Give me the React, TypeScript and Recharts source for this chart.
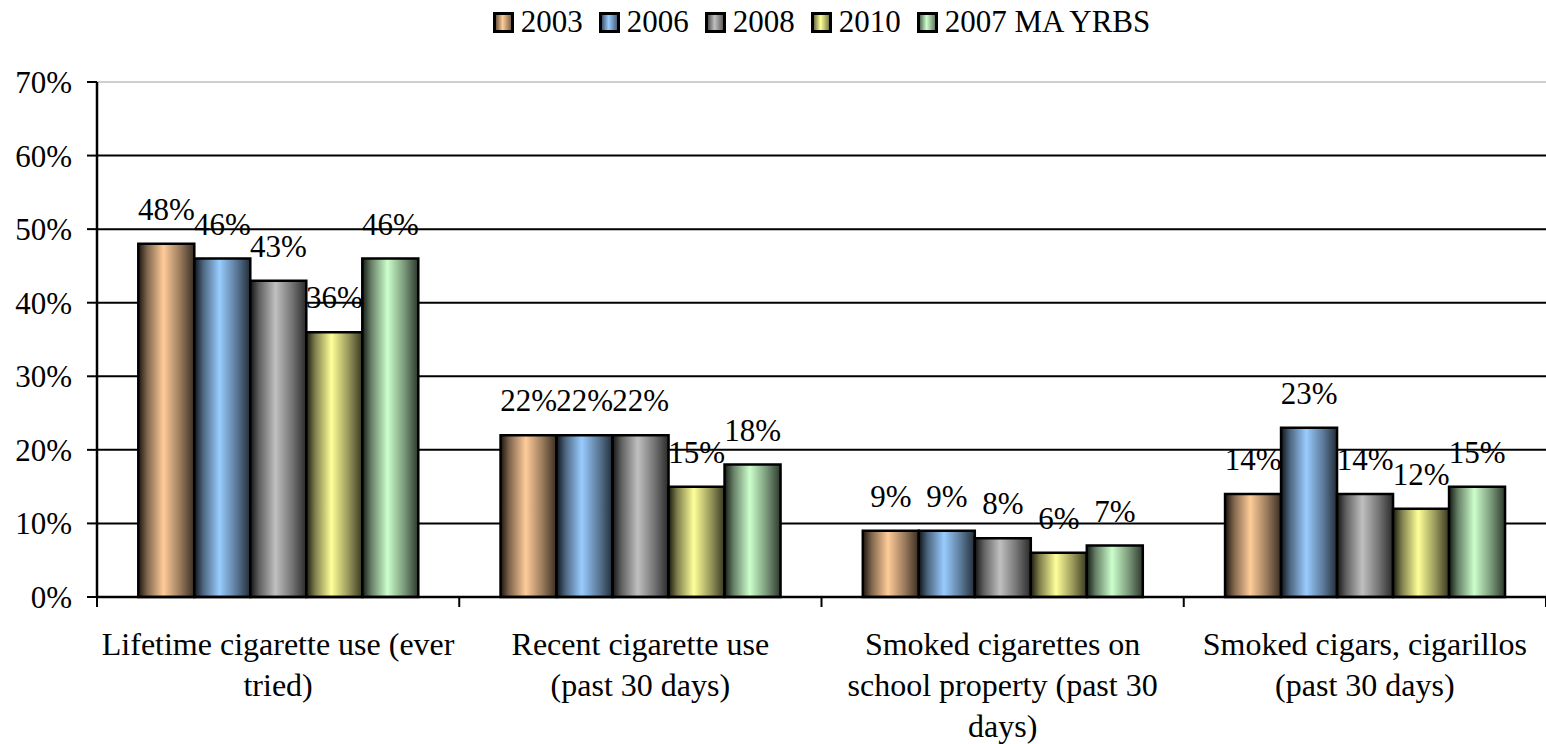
import React from "react";
import {
  BarChart,
  Bar,
  XAxis,
  YAxis,
  CartesianGrid,
  ReferenceLine,
  Legend,
  LabelList,
} from "recharts";

const categories = [
  "Lifetime cigarette use (ever\ntried)",
  "Recent cigarette use\n(past 30 days)",
  "Smoked cigarettes on\nschool property (past 30\ndays)",
  "Smoked cigars, cigarillos\n(past 30 days)",
];

const v2003 = [48, 22, 9, 14];
const v2006 = [46, 22, 9, 23];
const v2008 = [43, 22, 8, 14];
const v2010 = [36, 15, 6, 12];
const vYrbs2007 = [46, 18, 7, 15];

const yTicks = [0, 10, 20, 30, 40, 50, 60, 70];

const series = [
  { key: "y2003", name: "2003", values: v2003, color: "#FFCC99" },
  { key: "y2006", name: "2006", values: v2006, color: "#99CCFF" },
  { key: "y2008", name: "2008", values: v2008, color: "#C0C0C0" },
  { key: "y2010", name: "2010", values: v2010, color: "#FFFF99" },
  { key: "yrbs", name: "2007 MA YRBS", values: vYrbs2007, color: "#CCFFCC" },
];

const data = categories.map((cat, i) => {
  const row: Record<string, string | number> = { cat };
  series.forEach((s) => (row[s.key] = s.values[i]));
  return row;
});

const W = 1546;
const H = 744;
const Y_W = 97;
const FONT = "Liberation Serif, Times New Roman, serif";
const BAND = (W - Y_W) / categories.length;

function shade(hex: string, f: number) {
  const n = parseInt(hex.slice(1), 16);
  const r = Math.round(((n >> 16) & 255) * f);
  const g = Math.round(((n >> 8) & 255) * f);
  const b = Math.round((n & 255) * f);
  return `rgb(${r},${g},${b})`;
}

function Gradients() {
  return (
    <defs>
      {series.map((s) => (
        <linearGradient key={s.key} id={`g-${s.key}`} x1="0" y1="0" x2="1" y2="0">
          <stop offset="0%" stopColor={shade(s.color, 0.1)} />
          <stop offset="16%" stopColor={shade(s.color, 0.5)} />
          <stop offset="45%" stopColor={s.color} />
          <stop offset="75%" stopColor={shade(s.color, 0.6)} />
          <stop offset="100%" stopColor={shade(s.color, 0.22)} />
        </linearGradient>
      ))}
    </defs>
  );
}

// category label centred in its band, tick marks on the band edges
function CategoryTick(props: any) {
  const { x, y, payload, index } = props;
  const lines = String(payload.value).split("\n");
  const left = x - BAND / 2;
  const right = x + BAND / 2;
  return (
    <g>
      <line x1={left} y1={y} x2={left} y2={y + 10} stroke="#000" strokeWidth={2} />
      {index === categories.length - 1 && (
        <line x1={right} y1={y} x2={right} y2={y + 10} stroke="#000" strokeWidth={2} />
      )}
      <text textAnchor="middle" fontFamily={FONT} fontSize={32} fill="#000">
        {lines.map((ln, i) => (
          <tspan key={i} x={x} y={y + 58 + i * 41}>
            {ln}
          </tspan>
        ))}
      </text>
    </g>
  );
}

function ValueLabel(props: any) {
  const { x, y, width, value } = props;
  return (
    <text
      x={x + width / 2}
      y={y - 24}
      textAnchor="middle"
      fontFamily={FONT}
      fontSize={31}
      fill="#000"
    >
      {`${value}%`}
    </text>
  );
}

function LegendContent() {
  return (
    <div
      style={{
        display: "flex",
        justifyContent: "center",
        alignItems: "center",
        fontFamily: FONT,
        fontSize: 31,
        color: "#000",
        gap: 16,
      }}
    >
      {series.map((s) => (
        <div key={s.key} style={{ display: "flex", alignItems: "center" }}>
          <svg width={21} height={21} style={{ marginRight: 7 }}>
            <defs>
              <linearGradient id={`lg-${s.key}`} x1="0" y1="0" x2="1" y2="0">
                <stop offset="0%" stopColor={shade(s.color, 0.3)} />
                <stop offset="45%" stopColor={s.color} />
                <stop offset="100%" stopColor={shade(s.color, 0.4)} />
              </linearGradient>
            </defs>
            <rect x={1.5} y={1.5} width={18} height={18} fill={`url(#lg-${s.key})`} stroke="#000" strokeWidth={3} />
          </svg>
          <span style={{ lineHeight: "34px" }}>{s.name}</span>
        </div>
      ))}
    </div>
  );
}

export default function App() {
  return (
    <div style={{ position: "absolute", left: 0, top: 0, width: W, height: H, background: "#fff" }}>
      <BarChart
        width={W}
        height={H}
        data={data}
        margin={{ top: 82, right: 0, left: 0, bottom: 0 }}
        barGap={0}
        barCategoryGap="11.4%"
      >
        <Gradients />
        <CartesianGrid
          vertical={false}
          horizontalValues={[10, 20, 30, 40, 50, 60]}
          stroke="#000"
          strokeWidth={2}
        />
        <ReferenceLine y={70} stroke="#bfbfbf" strokeWidth={1.5} />
        <XAxis
          dataKey="cat"
          height={147}
          interval={0}
          tickLine={false}
          tickSize={0}
          tickMargin={0}
          axisLine={{ stroke: "#000", strokeWidth: 2.5 }}
          tick={<CategoryTick />}
        />
        <YAxis
          width={Y_W}
          domain={[0, 70]}
          ticks={yTicks}
          interval={0}
          tickFormatter={(v) => `${v}%`}
          tickSize={10}
          tickMargin={15}
          axisLine={{ stroke: "#000", strokeWidth: 2.5 }}
          tickLine={{ stroke: "#000", strokeWidth: 2 }}
          tick={{ fontFamily: FONT, fontSize: 31, fill: "#000" }}
        />
        <Legend
          verticalAlign="middle"
          align="center"
          content={<LegendContent />}
          wrapperStyle={{ top: 5, left: Y_W, width: W - Y_W, height: 34 }}
        />
        {series.map((s) => (
          <Bar
            key={s.key}
            dataKey={s.key}
            name={s.name}
            fill={`url(#g-${s.key})`}
            stroke="#000"
            strokeWidth={2.5}
            isAnimationActive={false}
          >
            <LabelList dataKey={s.key} content={<ValueLabel />} />
          </Bar>
        ))}
      </BarChart>
    </div>
  );
}
